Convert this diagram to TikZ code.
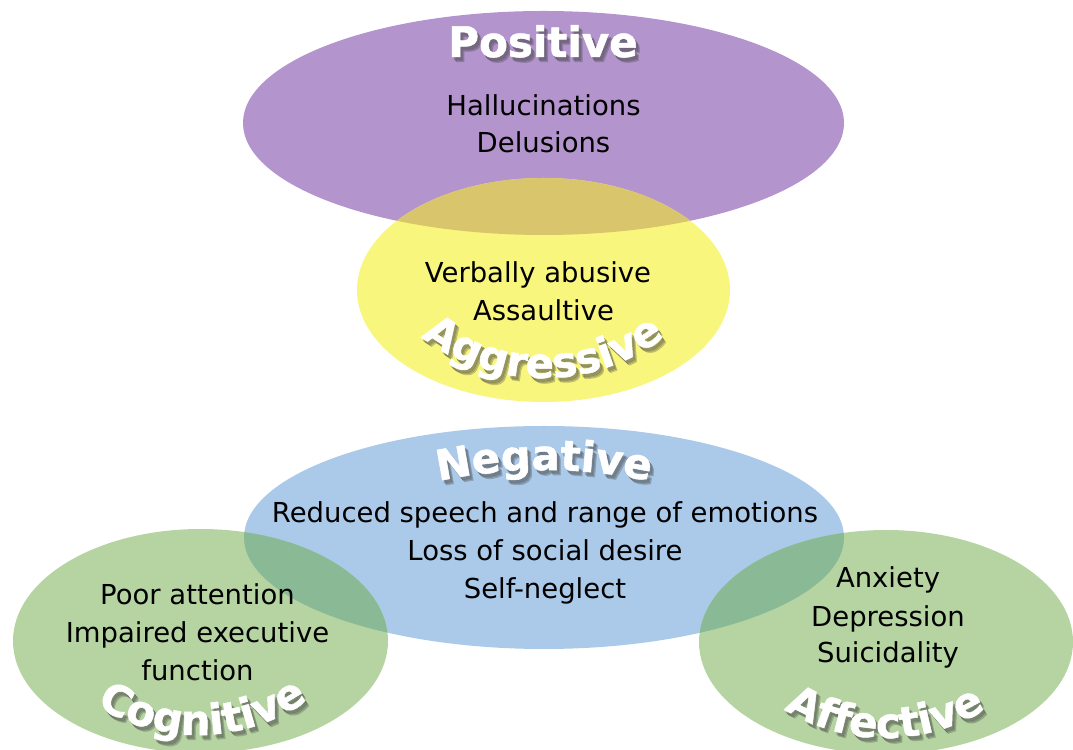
\documentclass[tikz,border=0pt]{standalone}
\usepackage{fontspec}
\setmainfont{DejaVu Sans}
\newfontfamily\lblfam[FakeBold=1.2]{DejaVu Sans Bold}
\usetikzlibrary{decorations.text}
\definecolor{cpurple}{HTML}{B394CD}
\definecolor{cyellow}{HTML}{F8F67C}
\definecolor{cpy}{HTML}{D9C56C}
\definecolor{cblue}{HTML}{ABCAE9}
\definecolor{cgreen}{HTML}{B6D4A2}
\definecolor{cbg}{HTML}{8AB996}
\newcommand\lblfont{\lblfam\fontsize{31.5}{31.5}\selectfont}
\newcommand\bodyfont{\fontsize{20.6}{24}\selectfont}
\begin{document}
\begin{tikzpicture}[x=0.75pt,y=0.75pt,
  body/.style={anchor=base, inner sep=0pt, font=\bodyfont, text=black},
  lbl/.style={anchor=base, inner sep=0pt, font=\lblfont, text=white},
  shadowlbl/.style={anchor=base, inner sep=0pt, font=\lblfont, text=black!75},
  arclbl/.style={decorate, decoration={text along path, text={|\lblfont|#1}, text align=center, text color=white}},
  arcshadow/.style={decorate, decoration={text along path, text={|\lblfont|#1}, text align=center, text color=black!75}},
]
\useasboundingbox (0,0) rectangle (1073,749);
% Positive / Aggressive
\fill[cpurple] (543.5,626) ellipse [x radius=300.5, y radius=112];
\fill[cyellow] (543.5,459) ellipse [x radius=186.5, y radius=112];
\begin{scope}
\clip (543.5,626) ellipse [x radius=300.5, y radius=112];
\fill[cpy] (543.5,459) ellipse [x radius=186.5, y radius=112];
\end{scope}
% Negative / Cognitive / Affective
\fill[cblue] (544,211.5) ellipse [x radius=300, y radius=111.5];
\fill[cgreen] (200.5,108) ellipse [x radius=187.5, y radius=112];
\fill[cgreen] (886,107) ellipse [x radius=187, y radius=112];
\begin{scope}
\clip (544,211.5) ellipse [x radius=300, y radius=111.5];
\fill[cbg] (200.5,108) ellipse [x radius=187.5, y radius=112];
\fill[cbg] (886,107) ellipse [x radius=187, y radius=112];
\end{scope}
% body texts
\node[body] (hal) at (543.5,633) {Hallucinations};
\node[body] (del) at (543.5,596) {Delusions};
\node[body] (verb) at (538,466) {Verbally abusive};
\node[body] (ass) at (543.5,428) {Assaultive};
\node[body] (red) at (545,226) {Reduced speech and range of emotions};
\node[body] (loss) at (545,188) {Loss of social desire};
\node[body] (self) at (545,150) {Self-neglect};
\node[body] (poor) at (197.5,144) {Poor attention};
\node[body] (imp) at (197.5,106) {Impaired executive};
\node[body] (fun) at (197.5,69) {function};
\node[body] (anx) at (888,161) {Anxiety};
\node[body] (dep) at (888,122) {Depression};
\node[body] (sui) at (888,86) {Suicidality};
% label shadows
\begin{scope}[opacity=0.22]
\foreach \d in {2,3,4} {
  \node[shadowlbl] (posshadow\d) at (543+\d,692-\d-1) {Positive};
  \path[arcshadow=Aggressive, shift={(\d,-\d-1)}] (543,571) ++(-135:200) arc[start angle=-135, end angle=-45, radius=200];
  \path[arcshadow=Negative, shift={(\d,-\d-1)}] (544,-226) ++(105:505) arc[start angle=105, end angle=75, radius=505];
  \path[arcshadow=Cognitive, shift={(\d,-\d-1)}] (198,204) ++(-138.5:190) arc[start angle=-138.5, end angle=-38.5, radius=190];
  \path[arcshadow=Affective, shift={(\d,-\d-1)}] (885,201) ++(-140:190) arc[start angle=-140, end angle=-40, radius=190];
}
\end{scope}
% labels
\node[lbl] (pos) at (543,692) {Positive};
\path[arclbl=Aggressive] (543,571) ++(-135:200) arc[start angle=-135, end angle=-45, radius=200];
\path[arclbl=Negative] (544,-226) ++(105:505) arc[start angle=105, end angle=75, radius=505];
\path[arclbl=Cognitive] (198,204) ++(-138.5:190) arc[start angle=-138.5, end angle=-38.5, radius=190];
\path[arclbl=Affective] (885,201) ++(-140:190) arc[start angle=-140, end angle=-40, radius=190];
\end{tikzpicture}
\end{document}
